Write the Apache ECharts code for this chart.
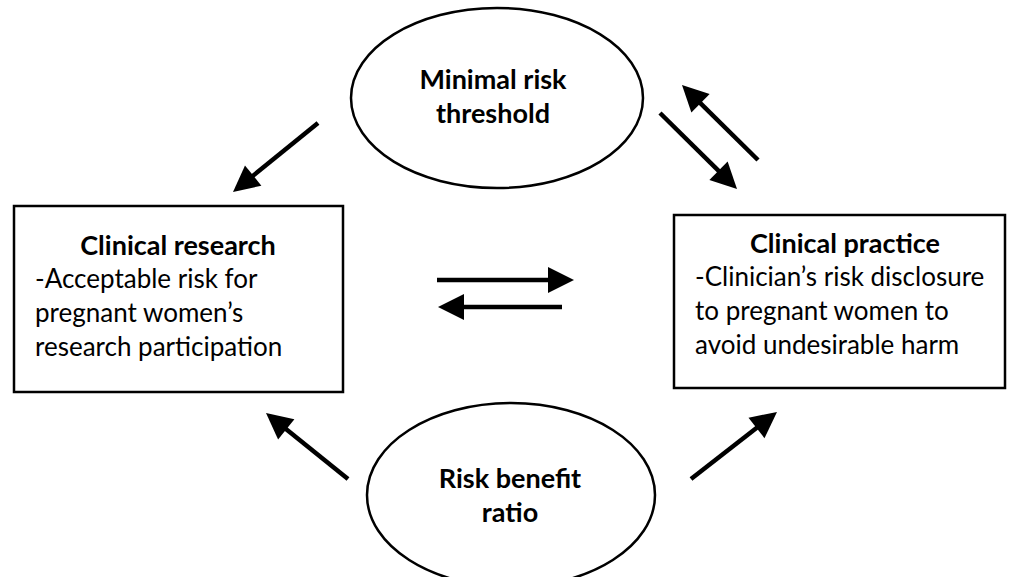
<!DOCTYPE html>
<html lang="en">
  <head>
    <meta charset="UTF-8" />
    <meta name="viewport" content="width=device-width, initial-scale=1.0" />
    <script src="https://cdn.jsdelivr.net/npm/echarts@6/dist/echarts.min.js"></script>
    <title>Risk framework</title>
    <style>
      html, body { margin: 0; padding: 0; background: #fff; }
      #main text { font-variant-ligatures: none; }
    </style>
  </head>
  <body>
    <div id="main" style="width: 1016px; height: 577px"></div>
    <script>
      // node texts
      const nodeNames = ["threshold", "research", "practice", "ratio"];
      const nodeTitles = ["Minimal risk\nthreshold", "Clinical research", "Clinical practice", "Risk benefit\nratio"];
      const nodeNotes = [
        "",
        "-Acceptable risk for\npregnant women’s\nresearch participation",
        "-Clinician’s risk disclosure\nto pregnant women to\navoid undesirable harm",
        ""
      ];
      // arrows between nodes
      const linkFrom = ["threshold", "threshold", "practice", "research", "practice", "ratio", "ratio"];
      const linkTo = ["research", "practice", "threshold", "practice", "research", "research", "practice"];

      // layout, in diagram units (axis coords)
      const nodeLayout = {
        threshold: { shape: "ellipse", cx: 497, cy: 98, rx: 146, ry: 90, tx: 493, ty: 78 },
        research: { shape: "rect", x: 14, y: 206, w: 329, h: 186, tx: 178, ty: 244, bx: 35 },
        practice: { shape: "rect", x: 674, y: 215, w: 331, h: 173, tx: 845, ty: 242, bx: 695 },
        ratio: { shape: "ellipse", cx: 511, cy: 495, rx: 144, ry: 92, tx: 510, ty: 477 }
      };
      const arrowLayout = [
        [[318, 123], [233, 192]],
        [[660, 113], [737, 189]],
        [[758, 160], [682, 85]],
        [[437, 280], [574, 280]],
        [[562, 307], [438, 307]],
        [[348, 479], [266, 413]],
        [[691, 479], [777, 412]]
      ];

      const FONT = "Lato, 'Open Sans', sans-serif";
      const LINE_H = 34;

      var chart = echarts.init(document.getElementById("main"), null, { renderer: "svg" });

      function renderNode(params, api) {
        const name = nodeNames[params.dataIndex];
        const lay = nodeLayout[name];
        const children = [];
        if (lay.shape === "ellipse") {
          const c = api.coord([lay.cx, lay.cy]);
          const e = api.coord([lay.cx + lay.rx, lay.cy + lay.ry]);
          children.push({
            type: "ellipse",
            shape: { cx: c[0], cy: c[1], rx: e[0] - c[0], ry: e[1] - c[1] },
            style: { fill: "#fff", stroke: "#000", lineWidth: 2.5 }
          });
        } else {
          const a = api.coord([lay.x, lay.y]);
          const b = api.coord([lay.x + lay.w, lay.y + lay.h]);
          children.push({
            type: "rect",
            shape: { x: a[0], y: a[1], width: b[0] - a[0], height: b[1] - a[1] },
            style: { fill: "#fff", stroke: "#000", lineWidth: 2.5 }
          });
        }
        const titleLines = nodeTitles[params.dataIndex].split("\n");
        titleLines.forEach((t, i) => {
          const p = api.coord([lay.tx, lay.ty + i * LINE_H]);
          children.push({
            type: "text",
            x: p[0], y: p[1],
            style: { text: t, fill: "#000", font: "bold 27px " + FONT, align: "center", verticalAlign: "middle" }
          });
        });
        const notes = nodeNotes[params.dataIndex];
        if (notes) {
          notes.split("\n").forEach((t, i) => {
            const p = api.coord([lay.bx, lay.ty + (i + 1) * LINE_H]);
            children.push({
              type: "text",
              x: p[0], y: p[1],
              style: { text: t, fill: "#000", font: "26px " + FONT, align: "left", verticalAlign: "middle" }
            });
          });
        }
        return { type: "group", children: children };
      }

      function renderArrow(params, api) {
        const seg = arrowLayout[params.dataIndex];
        const p1 = api.coord(seg[0]);
        const p2 = api.coord(seg[1]);
        const dx = p2[0] - p1[0], dy = p2[1] - p1[1];
        const len = Math.sqrt(dx * dx + dy * dy);
        const ux = dx / len, uy = dy / len;
        const headL = 26, headW = 13;
        const bx = p2[0] - ux * headL, by = p2[1] - uy * headL;
        return {
          type: "group",
          children: [
            {
              type: "line",
              shape: { x1: p1[0], y1: p1[1], x2: bx + ux * 2, y2: by + uy * 2 },
              style: { stroke: "#000", lineWidth: 4.5 }
            },
            {
              type: "polygon",
              shape: { points: [p2, [bx - uy * headW, by + ux * headW], [bx + uy * headW, by - ux * headW]] },
              style: { fill: "#000" }
            }
          ]
        };
      }

      chart.setOption({
        animation: false,
        grid: { left: 0, right: 0, top: 0, bottom: 0 },
        xAxis: { type: "value", min: 0, max: 1016, show: false },
        yAxis: { type: "value", min: 0, max: 577, inverse: true, show: false },
        series: [
          {
            type: "custom",
            name: "nodes",
            renderItem: renderNode,
            data: nodeNames.map((n, i) => [i]),
            clip: false
          },
          {
            type: "custom",
            name: "links",
            renderItem: renderArrow,
            data: linkFrom.map((f, i) => [f, linkTo[i]]),
            clip: false
          }
        ]
      });
    </script>
  </body>
</html>
